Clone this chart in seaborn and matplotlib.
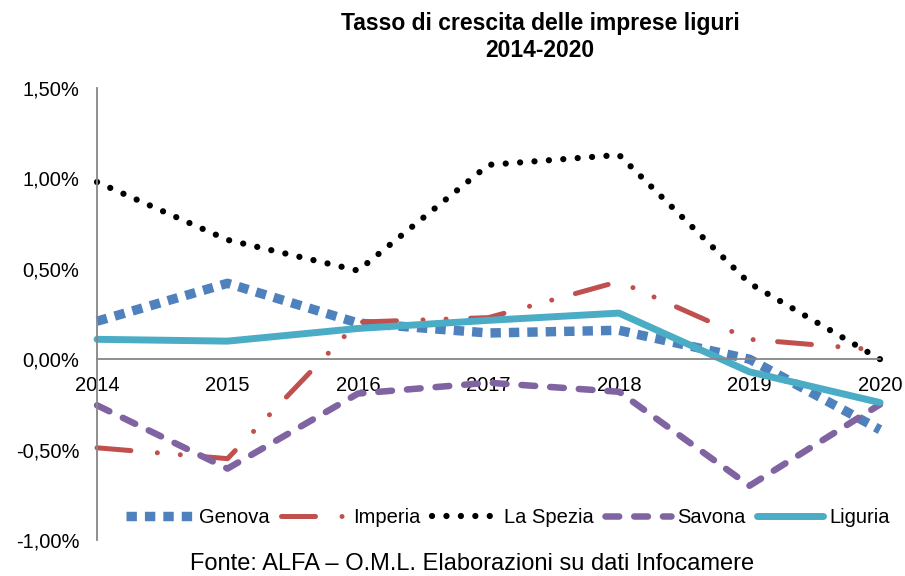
import pandas as pd
import matplotlib
matplotlib.use("Agg")
import matplotlib.pyplot as plt
import seaborn as sns
from matplotlib.ticker import FuncFormatter

# Dati (tasso di crescita, %)
anni = [2014, 2015, 2016, 2017, 2018, 2019, 2020]
genova = [0.21, 0.42, 0.20, 0.145, 0.16, 0.00, -0.39]
imperia = [-0.49, -0.55, 0.205, 0.23, 0.43, 0.11, 0.05]
la_spezia = [0.98, 0.66, 0.49, 1.075, 1.13, 0.42, 0.00]
savona = [-0.255, -0.605, -0.19, -0.13, -0.18, -0.70, -0.25]
liguria = [0.11, 0.10, 0.17, 0.215, 0.255, -0.07, -0.24]

serie = {
    "Genova": genova,
    "Imperia": imperia,
    "La Spezia": la_spezia,
    "Savona": savona,
    "Liguria": liguria,
}
df = pd.DataFrame([
    {"anno": a, "area": nome, "valore": v}
    for nome, valori in serie.items()
    for a, v in zip(anni, valori)
])

# stile di ogni linea
stili = {
    "Genova": dict(color="#4F81BD", lw=6.8, ls=(0, (1.1, 0.85)), cap="butt"),
    "Imperia": dict(color="#C0504D", lw=3.6, ls=(0, (6.8, 5.3, 0.01, 4.6, 0.01, 4.9)), cap="round"),
    "La Spezia": dict(color="black", lw=4.5, ls=(0, (0.01, 2.3)), cap="round"),
    "Savona": dict(color="#8064A2", lw=4.7, ls=(0, (2.1, 2.3)), cap="round"),
    "Liguria": dict(color="#4BACC6", lw=5.0, ls="-", cap="round"),
}

sns.set_style("white")
plt.rcParams["font.family"] = ["Liberation Sans", "DejaVu Sans"]
plt.rcParams["text.color"] = "black"

fig = plt.figure(figsize=(9.05, 5.76), dpi=100)
ax = fig.add_axes([0.1072, 0.0625, 0.8652, 0.7847])

for nome in serie:
    s = stili[nome]
    sns.lineplot(data=df[df["area"] == nome], x="anno", y="valore", ax=ax,
                 color=s["color"], linewidth=s["lw"], linestyle=s["ls"],
                 dash_capstyle=s["cap"], solid_capstyle=s["cap"],
                 label=nome, clip_on=False)

grigio = "#868686"
ax.set_xlim(2014, 2020)
ax.set_ylim(-1.0, 1.5)
ax.set_yticks([-1.0, -0.5, 0.0, 0.5, 1.0, 1.5])
ax.yaxis.set_major_formatter(FuncFormatter(lambda v, p: f"{v:.2f}%".replace(".", ",")))
ax.set_xticks(anni)
ax.set_xticklabels([str(a) for a in anni])
ax.set_xlabel("")
ax.set_ylabel("")

for lato in ["top", "right"]:
    ax.spines[lato].set_visible(False)
ax.spines["bottom"].set_position(("data", 0))
for lato in ["left", "bottom"]:
    ax.spines[lato].set_color(grigio)
    ax.spines[lato].set_linewidth(1.3)

ax.tick_params(axis="y", direction="out", length=3.6, width=1, color=grigio,
               pad=9, labelsize=14.5, labelcolor="black")
ax.tick_params(axis="x", direction="inout", length=8.6, width=1, color=grigio,
               pad=8, labelsize=14.5, labelcolor="black")

leg = ax.legend(loc="center", bbox_to_anchor=(0.525, 0.049), ncol=5, frameon=False,
                fontsize=14.5, handlelength=3.3, handletextpad=0.3, columnspacing=0.55,
                borderaxespad=0)
for t in leg.get_texts():
    t.set_color("black")

fig.text(0.597, 1 - 37 / 576, "Tasso di crescita delle imprese liguri\n2014-2020",
         ha="center", va="center", fontsize=16.5, fontweight="bold", linespacing=1.25,
         color="black")
fig.text(472 / 905, 1 - 564 / 576, "Fonte: ALFA – O.M.L. Elaborazioni su dati Infocamere",
         ha="center", va="center", fontsize=17, color="black")

fig.savefig("out.png", dpi=100)
